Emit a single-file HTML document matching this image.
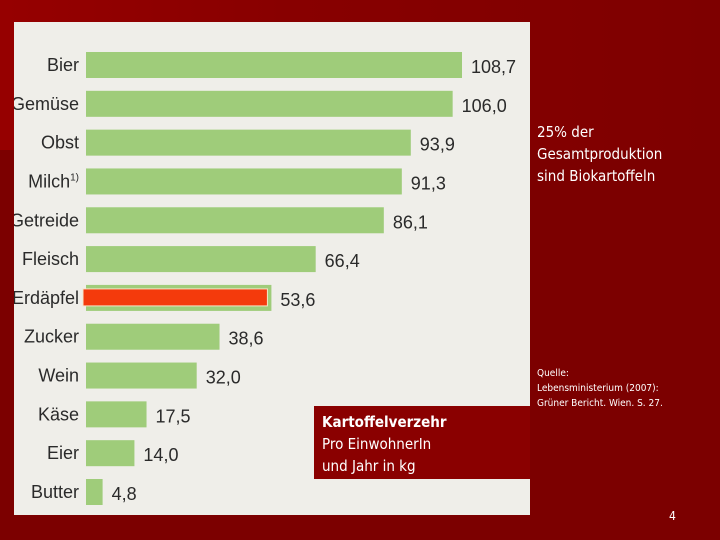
<!DOCTYPE html>
<html><head><meta charset="utf-8"><style>
body{margin:0;width:720px;height:540px;overflow:hidden;background:#7c0000;font-family:"Liberation Sans",sans-serif;position:relative}
#bgtop{position:absolute;left:0;top:0;width:720px;height:150px;background:linear-gradient(90deg,#960000,#880000 40%,#7e0000)}
#panel{position:absolute;left:14px;top:22px;width:516px;height:493px;background:#efeee9}
.t{position:absolute;color:#fff;font-family:"DejaVu Sans Condensed","DejaVu Sans","Liberation Sans",sans-serif}
</style></head><body>
<div id="bgtop"></div>
<div id="panel"></div>
<svg id="chart" width="720" height="540" style="position:absolute;left:0;top:0"><defs><clipPath id="pc"><rect x="14" y="22" width="516" height="493"/></clipPath></defs><g id="g" clip-path="url(#pc)"></g></svg>
<div class="t" style="left:314px;top:406px;width:216px;height:73px;background:#8a0000"></div>
<div class="t" style="left:322px;top:411px;font-size:15px;line-height:22px"><b>Kartoffelverzehr</b><br>Pro EinwohnerIn<br>und Jahr in kg</div>
<div class="t" style="left:537px;top:121px;font-size:15px;line-height:22px">25% der<br>Gesamtproduktion<br>sind Biokartoffeln</div>
<div class="t" style="left:537px;top:366px;font-size:10px;line-height:15px">Quelle:<br>Lebensministerium (2007):<br>Grüner Bericht. Wien. S. 27.</div>
<div class="t" style="left:669px;top:509px;font-size:12px">4</div>
<script>
const categories=["Bier","Gemüse","Obst","Milch","Getreide","Fleisch","Erdäpfel","Zucker","Wein","Käse","Eier","Butter"];
const values=[108.7,106.0,93.9,91.3,86.1,66.4,53.6,38.6,32.0,17.5,14.0,4.8];
const labels=["108,7","106,0","93,9","91,3","86,1","66,4","53,6","38,6","32,0","17,5","14,0","4,8"];
const highlight="Erdäpfel";
const svg=document.getElementById('g');const NS="http://www.w3.org/2000/svg";
const x0=86,scale=(462-86)/108.7;
function xs(v){return x0+v*scale;}
function yc(i){return 65+i*((492-65)/(categories.length-1));}
categories.forEach((c,i)=>{
 const y=yc(i),w=xs(values[i])-x0;
 const r=document.createElementNS(NS,'rect');
 r.setAttribute('x',x0);r.setAttribute('y',y-13);r.setAttribute('width',w);r.setAttribute('height',26);r.setAttribute('fill','#9fcc7a');
 
 
 svg.appendChild(r);
 if(c===highlight){
  const h=document.createElementNS(NS,'rect');
  h.setAttribute('x',x0-3);h.setAttribute('y',y-9);h.setAttribute('width',w-1);h.setAttribute('height',17);h.setAttribute('fill','#f43a0c');h.setAttribute('stroke','#f6e4c8');h.setAttribute('stroke-width','1');
  
  
  svg.appendChild(h);
 }
 const t=document.createElementNS(NS,'text');
 t.setAttribute('x',79);t.setAttribute('y',y+6);t.setAttribute('text-anchor','end');t.setAttribute('font-size','18');t.setAttribute('fill','#2a2a2a');
 t.setAttribute('font-family','Liberation Sans, sans-serif');
 t.textContent=c;
 if(c==="Milch"){const s=document.createElementNS(NS,'tspan');s.setAttribute('font-size','10');s.setAttribute('dy','-7');s.textContent="1)";t.appendChild(s);}
 
 
 svg.appendChild(t);
 const v=document.createElementNS(NS,'text');
 v.setAttribute('x',xs(values[i])+9);v.setAttribute('y',y+8);v.setAttribute('font-size','18');v.setAttribute('fill','#2a2a2a');
 v.setAttribute('font-family','Liberation Sans, sans-serif');
 v.textContent=labels[i];
 
 
 svg.appendChild(v);
});
</script>
</body></html>
